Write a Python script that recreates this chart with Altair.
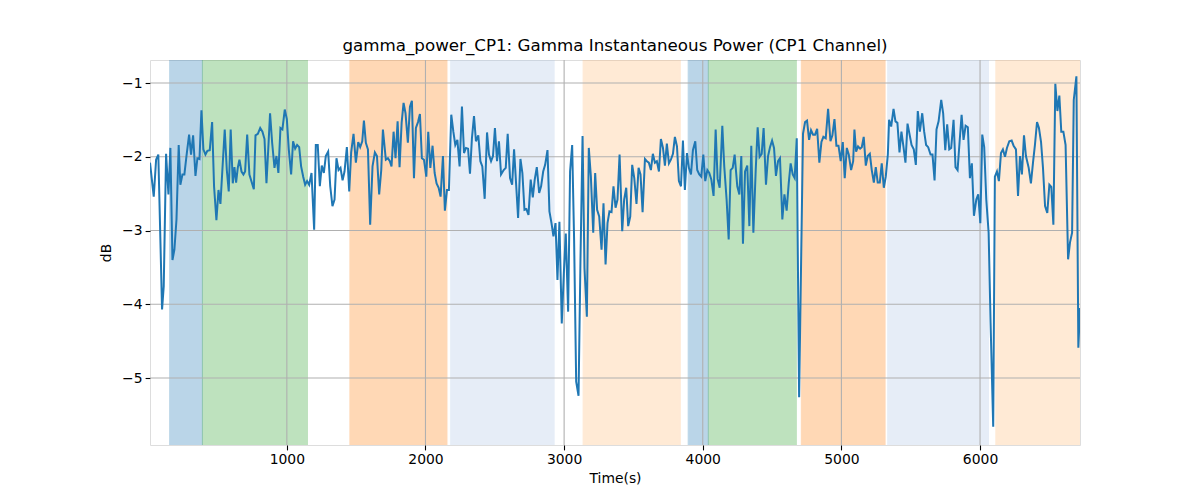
import altair as alt
import pandas as pd

time_s = [13, 40, 57, 73, 100, 112, 129, 146, 160, 175, 189, 204, 220, 232, 247, 261, 276, 295, 309, 324,
          341, 355, 370, 384, 398, 413, 427, 444, 461, 475, 492, 507, 521, 535, 552, 567, 581, 595, 610, 622,
          634, 646, 658, 673, 687, 699, 714, 730, 762, 774, 791, 808, 824, 839, 853, 862, 879, 894, 911, 925,
          939, 954, 968, 985, 1000, 1014, 1031, 1045, 1060, 1074, 1089, 1103, 1118, 1132, 1146, 1161, 1178, 1197, 1209, 1223,
          1238, 1252, 1267, 1281, 1298, 1313, 1329, 1344, 1358, 1373, 1387, 1402, 1416, 1433, 1450, 1464, 1481, 1498, 1515, 1529,
          1544, 1556, 1570, 1585, 1601, 1618, 1635, 1650, 1666, 1681, 1693, 1714, 1729, 1743, 1755, 1770, 1784, 1799, 1813, 1828,
          1842, 1856, 1873, 1888, 1902, 1917, 1931, 1946, 1960, 1974, 1989, 2006, 2020, 2035, 2051, 2066, 2080, 2095, 2109, 2126,
          2140, 2155, 2169, 2186, 2201, 2215, 2230, 2246, 2263, 2278, 2292, 2307, 2321, 2335, 2350, 2364, 2381, 2396, 2410, 2427,
          2444, 2458, 2473, 2487, 2501, 2516, 2530, 2545, 2564, 2579, 2593, 2610, 2625, 2639, 2654, 2668, 2685, 2699, 2714, 2728,
          2743, 2759, 2774, 2788, 2803, 2820, 2834, 2849, 2863, 2880, 2894, 2909, 2923, 2938, 2952, 2966, 2983, 2998, 3012, 3029,
          3043, 3058, 3072, 3087, 3104, 3118, 3133, 3147, 3164, 3178, 3193, 3210, 3224, 3238, 3253, 3270, 3284, 3299, 3313, 3327,
          3342, 3356, 3371, 3385, 3400, 3419, 3433, 3448, 3462, 3477, 3491, 3506, 3522, 3537, 3551, 3566, 3583, 3597, 3611, 3626,
          3640, 3655, 3669, 3684, 3698, 3713, 3727, 3741, 3756, 3770, 3785, 3799, 3814, 3828, 3843, 3857, 3871, 3886, 3900, 3915,
          3929, 3946, 3960, 3975, 3989, 4004, 4018, 4033, 4047, 4062, 4078, 4093, 4107, 4122, 4141, 4155, 4172, 4187, 4201, 4216,
          4230, 4249, 4264, 4278, 4290, 4305, 4321, 4336, 4350, 4365, 4382, 4396, 4410, 4425, 4439, 4456, 4471, 4485, 4500, 4514,
          4528, 4543, 4557, 4574, 4589, 4605, 4620, 4634, 4649, 4663, 4678, 4695, 4723, 4738, 4752, 4767, 4781, 4796, 4810, 4825,
          4841, 4856, 4870, 4887, 4904, 4921, 4935, 4950, 4964, 4979, 4995, 5010, 5024, 5039, 5053, 5070, 5085, 5094, 5106, 5120,
          5135, 5147, 5161, 5176, 5190, 5205, 5219, 5234, 5248, 5262, 5277, 5291, 5306, 5320, 5335, 5344, 5359, 5376, 5390, 5404,
          5419, 5433, 5448, 5462, 5477, 5491, 5506, 5522, 5537, 5551, 5566, 5583, 5597, 5611, 5626, 5643, 5657, 5672, 5686, 5701,
          5720, 5734, 5749, 5763, 5778, 5792, 5809, 5823, 5838, 5852, 5867, 5881, 5896, 5912, 5927, 5941, 5956, 5973, 5987, 6002,
          6016, 6030, 6045, 6062, 6076, 6095, 6107, 6122, 6136, 6151, 6165, 6180, 6194, 6211, 6228, 6242, 6259, 6274, 6288, 6302,
          6317, 6331, 6351, 6367, 6382, 6396, 6411, 6425, 6440, 6454, 6469, 6485, 6500, 6514, 6529, 6543, 6558, 6572, 6586, 6601,
          6617, 6635, 6649, 6664, 6676, 6695, 6709, 6721]

power_db = [-2.08, -2.54, -2.04, -1.97, -4.07, -3.76, -1.96, -2.51, -1.88, -3.40, -3.26, -2.85, -1.84, -2.38, -2.24, -2.24, -1.99, -1.70, -1.97, -1.71,
            -2.26, -2.02, -2.03, -1.37, -1.90, -1.97, -1.92, -1.91, -1.53, -2.40, -2.86, -2.45, -2.64, -2.18, -1.63, -2.18, -2.47, -1.63, -2.36, -2.14,
            -2.35, -2.15, -2.04, -2.20, -2.24, -2.20, -1.70, -2.24, -2.44, -1.71, -1.69, -1.61, -1.66, -1.76, -2.36, -2.04, -1.41, -1.81, -2.15, -1.99,
            -2.22, -1.61, -1.63, -1.36, -1.49, -1.90, -2.24, -1.79, -1.89, -1.84, -1.87, -2.13, -2.27, -2.38, -2.33, -2.38, -2.22, -2.99, -1.84, -1.84,
            -2.40, -2.12, -2.22, -1.99, -1.93, -2.40, -2.67, -2.58, -2.02, -2.18, -2.15, -2.32, -2.20, -1.87, -2.47, -1.94, -1.69, -2.08, -1.80, -1.87,
            -1.79, -1.51, -1.81, -1.90, -2.92, -2.13, -1.94, -1.99, -2.51, -2.18, -1.63, -2.04, -2.02, -2.06, -2.13, -1.66, -2.02, -1.52, -2.14, -1.54,
            -1.27, -1.41, -1.81, -1.32, -1.24, -2.29, -1.61, -1.53, -1.42, -2.02, -2.04, -2.27, -1.66, -2.15, -1.85, -2.22, -2.36, -2.42, -2.54, -1.99,
            -2.73, -2.45, -2.45, -1.43, -1.66, -1.84, -1.77, -2.13, -1.32, -1.95, -1.88, -1.89, -2.23, -1.75, -1.45, -1.79, -1.71, -2.06, -2.13, -2.57,
            -1.67, -1.97, -2.06, -1.99, -1.61, -2.06, -1.79, -2.24, -2.18, -2.15, -1.69, -2.29, -2.38, -1.90, -2.38, -2.83, -2.03, -2.22, -2.72, -2.71,
            -2.79, -2.31, -2.55, -2.31, -2.14, -2.49, -2.40, -2.20, -2.11, -1.91, -2.74, -2.90, -3.08, -2.90, -3.67, -2.88, -4.26, -3.58, -3.04, -4.10,
            -2.20, -1.84, -3.12, -5.05, -5.24, -3.40, -1.72, -3.51, -4.17, -1.88, -2.27, -3.03, -2.22, -2.72, -2.81, -3.26, -2.63, -3.46, -2.90, -2.74,
            -2.75, -2.40, -2.69, -2.58, -1.97, -3.01, -2.58, -2.42, -2.94, -2.81, -2.11, -2.29, -2.64, -2.15, -2.24, -2.75, -2.03, -2.06, -2.08, -2.18,
            -1.96, -2.08, -2.06, -2.20, -1.76, -1.88, -2.12, -1.82, -2.09, -2.04, -1.96, -1.73, -1.86, -2.33, -2.40, -1.78, -2.45, -1.95, -2.15, -2.24,
            -1.91, -1.79, -2.18, -2.24, -2.27, -1.97, -2.33, -2.18, -2.22, -2.31, -2.53, -1.63, -2.30, -2.42, -1.58, -2.13, -2.58, -3.12, -2.18, -2.15,
            -1.97, -2.40, -2.51, -1.99, -3.18, -2.20, -2.12, -2.94, -1.85, -3.03, -2.18, -1.60, -2.00, -1.96, -1.61, -2.38, -1.99, -1.87, -1.78, -1.88,
            -2.26, -2.06, -2.02, -2.85, -2.51, -2.73, -2.36, -2.09, -2.24, -2.29, -1.75, -5.26, -1.69, -1.53, -1.51, -1.77, -1.64, -1.70, -1.70, -1.62,
            -2.08, -1.80, -1.73, -1.75, -1.35, -1.79, -1.71, -1.49, -1.85, -1.85, -2.06, -1.80, -2.29, -1.88, -1.97, -2.18, -2.06, -1.63, -1.93, -1.86,
            -1.89, -1.87, -1.73, -2.12, -1.99, -1.96, -2.18, -2.35, -2.14, -2.35, -2.35, -2.09, -2.42, -2.27, -1.97, -1.50, -1.59, -1.35, -1.52, -1.54,
            -1.94, -1.66, -1.87, -2.08, -1.55, -1.69, -1.84, -1.90, -2.11, -1.38, -1.66, -1.41, -1.66, -1.84, -1.87, -1.97, -1.97, -2.32, -1.63, -1.52,
            -1.23, -1.41, -1.91, -1.56, -1.90, -1.88, -1.50, -2.14, -2.18, -1.81, -1.43, -1.77, -1.58, -1.60, -2.29, -2.09, -2.80, -2.58, -2.51, -2.90,
            -1.70, -1.87, -2.58, -3.03, -4.25, -5.66, -2.27, -2.20, -2.33, -1.95, -1.90, -2.00, -1.88, -1.79, -1.78, -1.85, -1.90, -2.53, -1.99, -2.24,
            -1.71, -1.99, -2.15, -2.36, -2.08, -1.84, -1.53, -1.61, -1.80, -2.15, -2.67, -2.76, -2.38, -2.41, -2.92, -1.01, -1.38, -1.17, -1.66, -1.66,
            -1.84, -3.39, -3.16, -3.03, -1.23, -0.91, -4.59, -4.05]

band_start = [155, 391, 1455, 2182, 3137, 3895, 4040, 4711, 5334, 6114]
band_end = [391, 1149, 2155, 2928, 3838, 4040, 4675, 5315, 6061, 6721]
band_color = ["#1f77b4", "#2ca02c", "#ff7f0e", "#aec7e8", "#ffbb78",
              "#1f77b4", "#2ca02c", "#ff7f0e", "#aec7e8", "#ffbb78"]

x_ticks = [1000, 2000, 3000, 4000, 5000, 6000]
y_ticks = [-1, -2, -3, -4, -5]
x_domain = [13, 6721]
y_domain = [-5.908, -0.688]

FONT = "DejaVu Sans"

line_df = pd.DataFrame({"t": time_s, "db": power_db})
band_df = pd.DataFrame({"start": band_start, "end": band_end, "color": band_color})
xg_df = pd.DataFrame({"t": x_ticks})
yg_df = pd.DataFrame({"db": y_ticks})

x_scale = alt.Scale(domain=x_domain, nice=False, zero=False)
y_scale = alt.Scale(domain=y_domain, nice=False, zero=False)

x_axis = alt.Axis(values=x_ticks, format="d", grid=False, domain=False,
                  tickColor="black", tickSize=4.9, tickWidth=1.1,
                  labelFont=FONT, labelFontSize=13.9, labelColor="black", labelPadding=3,
                  title="Time(s)", titleFont=FONT, titleFontSize=13.9, titleFontWeight="normal",
                  titleColor="black", titlePadding=5)
y_axis = alt.Axis(values=y_ticks, format="d", grid=False, domain=False,
                  tickColor="black", tickSize=4.9, tickWidth=1.1,
                  labelFont=FONT, labelFontSize=13.9, labelColor="black", labelPadding=3,
                  title="dB", titleFont=FONT, titleFontSize=13.9, titleFontWeight="normal",
                  titleColor="black", titlePadding=8)

bands = alt.Chart(band_df).mark_rect(opacity=0.3, strokeWidth=1.0, clip=True).encode(
    x=alt.X("start:Q", scale=x_scale, axis=x_axis),
    x2="end:Q",
    color=alt.Color("color:N", scale=None),
    stroke=alt.Stroke("color:N", scale=None),
)

xgrid = alt.Chart(xg_df).mark_rule(color="#b0b0b0", strokeWidth=1.1).encode(
    x=alt.X("t:Q", scale=x_scale),
)
ygrid = alt.Chart(yg_df).mark_rule(color="#b0b0b0", strokeWidth=1.1).encode(
    y=alt.Y("db:Q", scale=y_scale, axis=y_axis),
)

line = alt.Chart(line_df).mark_line(color="#1f77b4", strokeWidth=2.0, clip=True).encode(
    x=alt.X("t:Q", scale=x_scale),
    y=alt.Y("db:Q", scale=y_scale),
)

chart = alt.layer(bands, xgrid, ygrid, line).properties(
    width=930,
    height=385,
    title=alt.TitleParams("gamma_power_CP1: Gamma Instantaneous Power (CP1 Channel)",
                          font=FONT, fontSize=16.7, fontWeight="normal", color="black",
                          anchor="middle", offset=5),
    autosize=alt.AutoSizeParams(type="none"),
    padding={"left": 142, "top": 52, "right": 112, "bottom": 47},
).configure_view(
    stroke="black", strokeWidth=1.1
).configure(background="white")

chart.save("out.html", embed_options={"renderer": "svg", "actions": False})
